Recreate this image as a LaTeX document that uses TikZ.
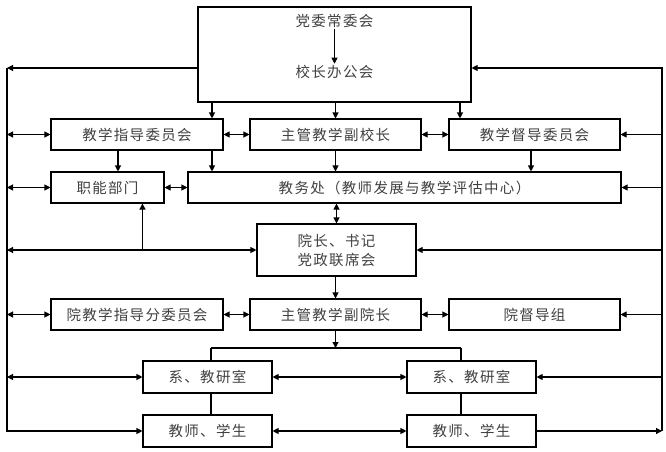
\documentclass[tikz,border=0pt]{standalone}
\usepackage{fontspec}
\newfontfamily\cjk[LetterSpace=9]{Noto Sans CJK SC}
\usetikzlibrary{arrows.meta}
\begin{document}
\begin{tikzpicture}[x=1pt,y=-1pt,
  line width=1.1pt,
  every node/.style={font=\cjk\fontsize{14.5}{19}\selectfont, text=black!75},
  box/.style={draw, rectangle, inner sep=0pt, minimum height=31pt},
  txt/.style={inner sep=1pt},
  arr/.style={-{Triangle[length=6pt,width=6pt]}},
  darr/.style={{Triangle[length=6pt,width=6pt]}-{Triangle[length=6pt,width=6pt]}}]
\useasboundingbox (0,0) rectangle (666,452);
% boxes
\node[box, minimum width=273pt, minimum height=95pt] (top) at (334.5,54.5) {};
\node[txt] (dw) at (334.5,21) {党委常委会};
\node[txt] (xz) at (334.5,72) {校长办公会};
\node[box, minimum width=172pt] (jxzd) at (137,134.5) {教学指导委员会};
\node[box, minimum width=171pt] (zgfxz) at (335.5,134.5) {主管教学副校长};
\node[box, minimum width=171pt] (dd) at (534.5,134.5) {教学督导委员会};
\node[box, minimum width=113pt] (zn) at (107.5,187.5) {职能部门};
\node[box, minimum width=433pt] (jwc) at (404.5,187.5) {教务处（教师发展与教学评估中心）};
\node[box, minimum width=159pt, minimum height=52pt, align=center] (yz) at (336.5,250) {院长、书记\\党政联席会};
\node[box, minimum width=172pt] (yjx) at (137,314.5) {院教学指导分委员会};
\node[box, minimum width=171pt] (zgfyz) at (335.5,314.5) {主管教学副院长};
\node[box, minimum width=171pt] (ydd) at (534.5,314.5) {院督导组};
\node[box, minimum width=129pt, minimum height=32pt] (x1) at (207.5,377) {系、教研室};
\node[box, minimum width=129pt, minimum height=32pt] (x2) at (471.5,377) {系、教研室};
\node[box, minimum width=129pt, minimum height=32pt] (s1) at (207.5,431) {教师、学生};
\node[box, minimum width=129pt, minimum height=32pt] (s2) at (471.5,431) {教师、学生};
% rails and helper coordinates
\coordinate (Ltop) at (7,68);
\coordinate (Rtop) at (662,68);
\coordinate (bus) at (335.5,348);
\coordinate (busL) at (211,348);
\coordinate (busR) at (461,348);
\coordinate (c1) at (212,0);
\coordinate (c2) at (460,0);
\coordinate (c3) at (118,0);
\coordinate (c4) at (531,0);
% inside top box
\draw[arr, line width=0.9pt] (dw.south) -- (xz.north);
% left rail
\draw[arr] (top.west |- Ltop) -- (Ltop);
\draw[arr] (Ltop) -- (Ltop |- s1.west) -- (s1.west);
\draw[darr] (Ltop |- jxzd.west) -- (jxzd.west);
\draw[darr] (Ltop |- zn.west) -- (zn.west);
\draw[darr] (Ltop |- yz.west) -- (yz.west);
\draw[arr] (s1.west |- yz.west) -- (s1.west |- zn.south);
\draw[darr] (Ltop |- yjx.west) -- (yjx.west);
\draw[darr] (Ltop |- x1.west) -- (x1.west);
% right rail
\draw[arr] (s2.east) -- (Rtop |- s2.east);
\draw[arr] (Rtop |- s2.east) -- (Rtop) -- (top.east |- Rtop);
\draw[arr] (Rtop |- dd.east) -- (dd.east);
\draw[arr] (Rtop |- jwc.east) -- (jwc.east);
\draw[arr] (Rtop |- yz.east) -- (yz.east);
\draw[arr] (Rtop |- ydd.east) -- (ydd.east);
\draw[arr] (Rtop |- x2.east) -- (x2.east);
% top box down
\draw[arr] (c1 |- top.south) -- (c1 |- jxzd.north);
\draw[arr] (top.south -| zgfxz.north) -- (zgfxz.north);
\draw[arr] (c2 |- top.south) -- (c2 |- dd.north);
% row links
\draw[darr] (jxzd.east) -- (zgfxz.west);
\draw[darr] (zgfxz.east) -- (dd.west);
\draw[darr] (zn.east) -- (jwc.west);
\draw[darr] (yjx.east) -- (zgfyz.west);
\draw[darr] (zgfyz.east) -- (ydd.west);
\draw[darr] (x1.east) -- (x2.west);
\draw[darr] (s1.east) -- (s2.west);
% row 2 to row 3
\draw[arr] (c3 |- jxzd.south) -- (c3 |- zn.north);
\draw[arr] (c1 |- jxzd.south) -- (c1 |- jwc.north);
\draw[arr] (zgfxz.south) -- (zgfxz.south |- jwc.north);
\draw[arr] (c4 |- dd.south) -- (c4 |- jwc.north);
% middle column
\draw[darr] (jwc.south -| yz.north) -- (yz.north);
\draw[arr] (yz.south -| zgfyz.north) -- (zgfyz.north);
\draw[arr] (zgfyz.south) -- (bus);
\draw (busL) -- (busR);
\draw (busL) -- (busL |- x1.north);
\draw (busR) -- (busR |- x2.north);
\draw (busL |- x1.south) -- (busL |- s1.north);
\draw (busR |- x2.south) -- (busR |- s2.north);
\end{tikzpicture}
\end{document}
